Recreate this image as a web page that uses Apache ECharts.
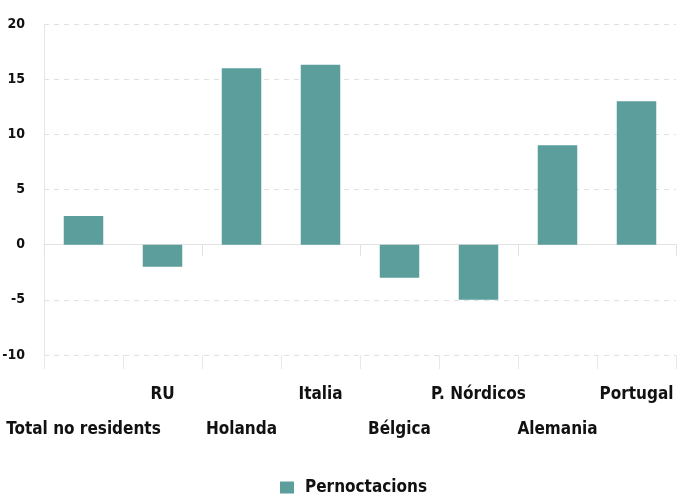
<!DOCTYPE html>
<html>
<head>
<meta charset="utf-8">
<script src="https://cdn.jsdelivr.net/npm/echarts@6/dist/echarts.min.js"></script>
<style>html,body{margin:0;padding:0;background:#fff}#c{width:678px;height:499px}</style>
</head>
<body>
<div id="c"></div>
<script>
const categories = ['Total no residents', 'RU', 'Holanda', 'Italia', 'Bélgica', 'P. Nórdicos', 'Alemania', 'Portugal'];
const pernoctacions = [2.6, -2.0, 16.0, 16.3, -3.0, -5.0, 9.0, 13.0];
const seriesName = 'Pernoctacions';

const FONT = '"Liberation Sans Narrow", "DejaVu Sans Condensed", sans-serif';
const chart = echarts.init(document.getElementById('c'));
chart.setOption({
  animation: false,
  grid: { left: 44, right: 2, top: 24, bottom: 144, containLabel: false, outerBoundsMode: 'none' },
  legend: {
    top: 474, left: 275,
    itemWidth: 14, itemHeight: 12, itemGap: 10,
    icon: 'rect',
    textStyle: { fontFamily: FONT, fontWeight: 'bold', fontSize: 17, color: '#111', padding: [0, 0, 0, 6] },
    data: [seriesName]
  },
  xAxis: [
    {
      type: 'category', data: categories, position: 'bottom',
      axisLine: { onZero: true, lineStyle: { color: '#e2e2e2', width: 1 } },
      axisTick: { show: true, length: 11, lineStyle: { color: '#e2e2e2' } },
      axisLabel: { show: false }
    },
    {
      type: 'category', data: categories, position: 'bottom',
      axisLine: { show: false, onZero: false },
      axisTick: { show: true, length: 14, lineStyle: { color: '#e8e8e8' } },
      axisLabel: {
        interval: 0, margin: 22, lineHeight: 35,
        fontFamily: FONT, fontWeight: 'bold', fontSize: 17, color: '#111',
        formatter: function (v, i) { return i % 2 === 0 ? '\n' + v : v; }
      }
    }
  ],
  yAxis: {
    type: 'value', min: -10, max: 20, interval: 5,
    axisLine: { show: true, lineStyle: { color: '#e6e6e6' } },
    axisTick: { show: false },
    axisLabel: { margin: 19, fontFamily: FONT, fontWeight: 'bold', fontSize: 14, color: '#111' },
    splitLine: { show: true, lineStyle: { color: '#e0e0e0', type: [5, 5] } }
  },
  series: [{
    name: seriesName, type: 'bar', xAxisIndex: 0, data: pernoctacions,
    barWidth: '50%',
    itemStyle: { color: '#5b9e9c' }
  }]
});
</script>
</body>
</html>
